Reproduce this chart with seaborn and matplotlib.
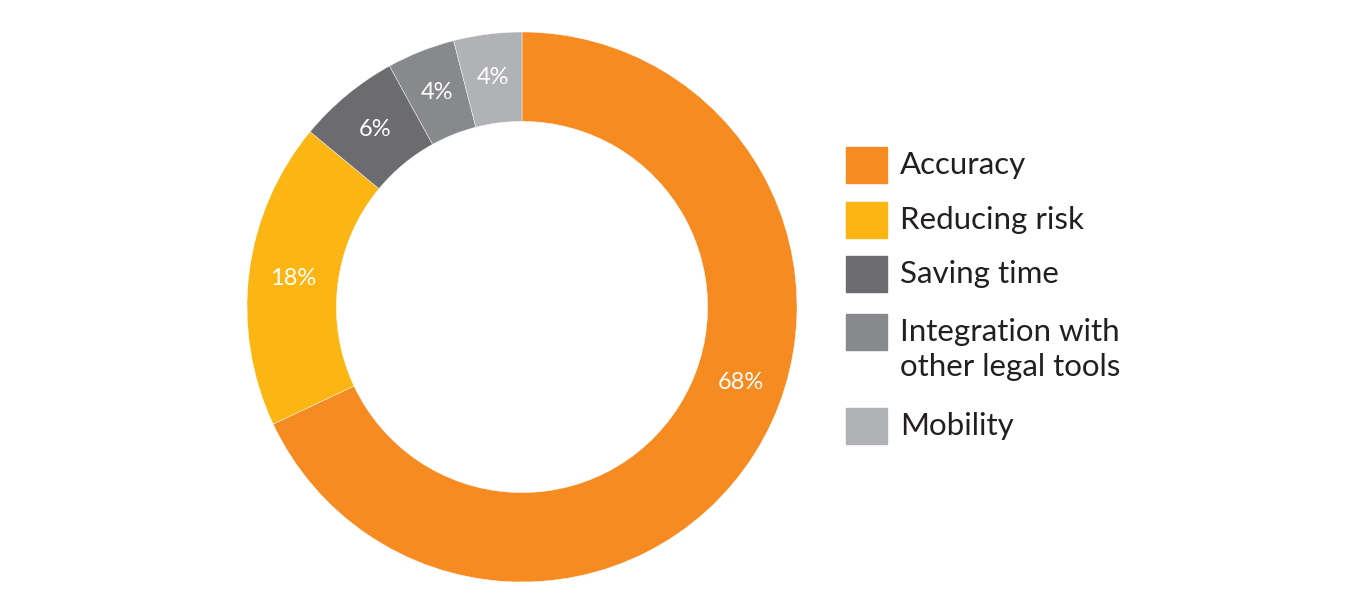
import matplotlib
matplotlib.use("Agg")
import matplotlib.pyplot as plt
from matplotlib.patches import Rectangle
import numpy as np
import seaborn as sns

# data
categories = ["Accuracy", "Reducing risk", "Saving time",
              "Integration with\nother legal tools", "Mobility"]
shares = [68, 18, 6, 4, 4]
slice_colors = ["#F68B22", "#FBB614", "#6C6C70", "#88898C", "#B1B2B5"]

sns.set_theme(style="white")
plt.rcParams["font.family"] = ["Lato", "DejaVu Sans"]

W, H = 1349, 615
fig = plt.figure(figsize=(W / 100, H / 100), dpi=100)
fig.patch.set_facecolor("white")

# donut: centre (522, 307) px, outer radius 275 px
cx, cy, r = 522, 307, 275
ax = fig.add_axes([(cx - r) / W, (H - cy - r) / H, 2 * r / W, 2 * r / H])
palette = sns.color_palette(slice_colors)
wedges, texts, autotexts = ax.pie(
    shares, colors=palette, startangle=90, counterclock=False,
    radius=1.0, pctdistance=0.84,
    autopct=lambda p: "{0:.0f}%".format(p),
    wedgeprops=dict(width=0.325, linewidth=0.3, edgecolor="white"),
    textprops=dict(color="white", fontsize=17))
# the big slice has its label sitting lower right, not at mid-angle
ang = np.deg2rad(-19)
autotexts[0].set_position((0.84 * np.cos(ang), 0.84 * np.sin(ang)))
ax.set_xlim(-1, 1)
ax.set_ylim(-1, 1)
ax.set_aspect("equal")
ax.axis("off")

# legend drawn by hand so the swatch lines up with the first text line
row_y = [165, 220, 274, 332, 426]
for lab, col, yy in zip(categories, palette, row_y):
    fig.patches.append(Rectangle((846 / W, (H - yy - 18) / H), 41 / W, 36 / H,
                                 transform=fig.transFigure, color=col))
    lines = lab.split("\n")
    for k, line in enumerate(lines):
        fig.text(900 / W, (H - yy - 35 * k) / H, line, fontsize=22.5,
                 color="#231F20", va="center", ha="left")

plt.savefig("out.png", dpi=100, facecolor="white")
